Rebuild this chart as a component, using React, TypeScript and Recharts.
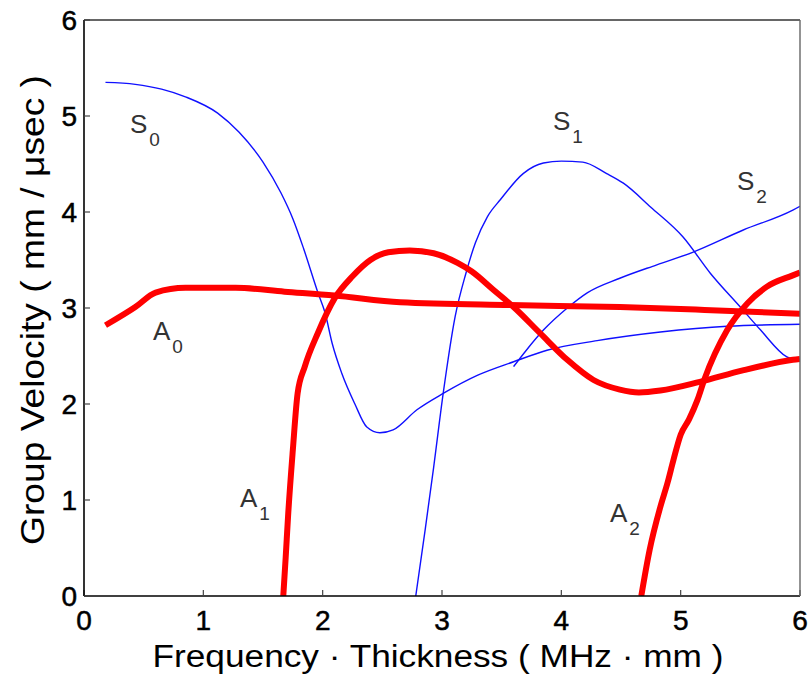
import React from 'react';
import { LineChart, Line, XAxis, YAxis, ReferenceDot } from 'recharts';

const FONT = '"Liberation Sans", Arial, Helvetica, sans-serif';

const xTicks = [0, 1, 2, 3, 4, 5, 6];
const yTicks = [0, 1, 2, 3, 4, 5, 6];
const xTitle = 'Frequency · Thickness ( MHz · mm )';
const yTitle = 'Group Velocity ( mm / μsec )';

// Symmetric modes (thin blue)
const s0 = [
  { x: 0.18, y: 5.35 }, { x: 0.43, y: 5.33 }, { x: 0.65, y: 5.28 }, { x: 0.85, y: 5.2 },
  { x: 1.12, y: 5.03 }, { x: 1.3, y: 4.83 }, { x: 1.5, y: 4.52 }, { x: 1.65, y: 4.2 },
  { x: 1.75, y: 3.93 }, { x: 1.84, y: 3.62 }, { x: 1.96, y: 3.16 }, { x: 2.02, y: 2.95 },
  { x: 2.08, y: 2.63 }, { x: 2.16, y: 2.32 }, { x: 2.27, y: 2.0 }, { x: 2.37, y: 1.76 },
  { x: 2.48, y: 1.7 }, { x: 2.59, y: 1.73 }, { x: 2.79, y: 1.94 }, { x: 3.01, y: 2.11 },
  { x: 3.3, y: 2.3 }, { x: 3.6, y: 2.44 }, { x: 3.88, y: 2.56 }, { x: 4.3, y: 2.66 },
  { x: 4.83, y: 2.75 }, { x: 5.39, y: 2.81 }, { x: 6.0, y: 2.83 },
];
const s1 = [
  { x: 2.78, y: 0 }, { x: 2.86, y: 0.7 }, { x: 2.93, y: 1.34 }, { x: 3.01, y: 2.11 },
  { x: 3.11, y: 2.91 }, { x: 3.2, y: 3.36 }, { x: 3.28, y: 3.68 }, { x: 3.38, y: 3.95 },
  { x: 3.49, y: 4.13 }, { x: 3.68, y: 4.4 }, { x: 3.85, y: 4.51 }, { x: 4.0, y: 4.53 },
  { x: 4.18, y: 4.52 }, { x: 4.38, y: 4.4 }, { x: 4.52, y: 4.3 }, { x: 4.75, y: 4.05 },
  { x: 5.02, y: 3.74 }, { x: 5.25, y: 3.36 }, { x: 5.5, y: 3.01 }, { x: 5.67, y: 2.77 },
  { x: 5.89, y: 2.49 }, { x: 6.0, y: 2.45 },
];
const s2 = [
  { x: 3.6, y: 2.39 }, { x: 3.7, y: 2.55 }, { x: 3.85, y: 2.77 }, { x: 4.05, y: 3.0 },
  { x: 4.22, y: 3.16 }, { x: 4.49, y: 3.31 }, { x: 4.8, y: 3.45 }, { x: 5.1, y: 3.58 },
  { x: 5.52, y: 3.81 }, { x: 5.94, y: 4.02 }, { x: 6.0, y: 4.06 },
];

// Antisymmetric modes (thick red)
const a0 = [
  { x: 0.18, y: 2.82 }, { x: 0.43, y: 3.01 }, { x: 0.6, y: 3.16 }, { x: 0.85, y: 3.21 },
  { x: 1.27, y: 3.21 }, { x: 1.68, y: 3.17 }, { x: 2.1, y: 3.13 }, { x: 2.65, y: 3.06 },
  { x: 3.57, y: 3.03 }, { x: 4.49, y: 3.01 }, { x: 5.2, y: 2.98 }, { x: 6.0, y: 2.94 },
];
const a1 = [
  { x: 1.67, y: 0 }, { x: 1.69, y: 0.4 }, { x: 1.71, y: 0.83 }, { x: 1.75, y: 1.52 },
  { x: 1.79, y: 2.11 }, { x: 1.85, y: 2.39 }, { x: 1.96, y: 2.74 }, { x: 2.1, y: 3.1 },
  { x: 2.25, y: 3.33 }, { x: 2.4, y: 3.5 }, { x: 2.55, y: 3.58 }, { x: 2.73, y: 3.6 },
  { x: 2.93, y: 3.57 }, { x: 3.13, y: 3.47 }, { x: 3.25, y: 3.38 }, { x: 3.43, y: 3.19 },
  { x: 3.6, y: 3.01 }, { x: 3.82, y: 2.74 }, { x: 4.05, y: 2.46 }, { x: 4.27, y: 2.25 },
  { x: 4.49, y: 2.15 }, { x: 4.65, y: 2.12 }, { x: 4.83, y: 2.14 }, { x: 5.16, y: 2.23 },
  { x: 5.52, y: 2.35 }, { x: 5.94, y: 2.46 }, { x: 6.0, y: 2.47 },
];
const a2 = [
  { x: 4.67, y: 0 }, { x: 4.74, y: 0.48 }, { x: 4.83, y: 0.93 }, { x: 4.89, y: 1.18 },
  { x: 4.94, y: 1.42 }, { x: 5.0, y: 1.68 }, { x: 5.07, y: 1.84 }, { x: 5.14, y: 2.04 },
  { x: 5.2, y: 2.26 }, { x: 5.39, y: 2.77 }, { x: 5.56, y: 3.05 }, { x: 5.72, y: 3.22 },
  { x: 5.94, y: 3.34 }, { x: 6.0, y: 3.37 },
];

const modeLabels = [
  { main: 'S', sub: '0', x: 0.385, y: 4.82 },
  { main: 'A', sub: '0', x: 0.578, y: 2.667 },
  { main: 'A', sub: '1', x: 1.307, y: 0.927 },
  { main: 'S', sub: '1', x: 3.93, y: 4.854 },
  { main: 'S', sub: '2', x: 5.472, y: 4.229 },
  { main: 'A', sub: '2', x: 4.408, y: 0.771 },
];

const blueSeries = [s0, s1, s2];
const redSeries = [a0, a1, a2];

const XTick = (props: any) => {
  const { x, y, payload } = props;
  return (
    <text x={x} y={y + 24} textAnchor="middle" fontFamily={FONT} fontSize={28} fill="#000"
      stroke="#000" strokeWidth={0.5}>
      {payload.value}
    </text>
  );
};

const YTick = (props: any) => {
  const { x, y, payload } = props;
  return (
    <text x={x} y={y + 10} textAnchor="end" fontFamily={FONT} fontSize={28} fill="#000"
      stroke="#000" strokeWidth={0.5}>
      {payload.value}
    </text>
  );
};

const XTitle = (props: any) => {
  const vb = props.viewBox || { x: 84, y: 596, width: 716, height: 91 };
  const cx = vb.x + vb.width / 2 - 4;
  return (
    <text x={cx} y={vb.y + 71} textAnchor="middle" fontFamily={FONT} fontSize={31} fill="#000"
      textLength={571} lengthAdjust="spacingAndGlyphs">
      {xTitle}
    </text>
  );
};

const YTitle = (props: any) => {
  const vb = props.viewBox || { x: 0, y: 20, width: 84, height: 576 };
  const cx = 44;
  const cy = vb.y + vb.height / 2 + 2;
  return (
    <text x={cx} y={cy} textAnchor="middle" fontFamily={FONT} fontSize={33} fill="#000"
      transform={`rotate(-90 ${cx} ${cy})`} textLength={470} lengthAdjust="spacingAndGlyphs">
      {yTitle}
    </text>
  );
};

const ModeLabel = (props: any) => {
  const { cx, cy, main, sub } = props;
  return (
    <text x={cx} y={cy} fontFamily={FONT} fontSize={26} fill="#333">
      {main}
      <tspan fontSize={19} dx={2} dy={13}>{sub}</tspan>
    </text>
  );
};

export default function App() {
  return (
    <div style={{ position: 'absolute', left: 0, top: 0, background: '#fff' }}>
      <LineChart width={810} height={687} margin={{ top: 19, right: 9, bottom: 0, left: 0 }}>
        <XAxis
          xAxisId="bottom"
          dataKey="x"
          type="number"
          domain={[0, 6]}
          ticks={xTicks}
          allowDataOverflow
          height={91}
          tickSize={-6}
          tickMargin={16}
          tick={<XTick />}
          axisLine={{ stroke: '#000', strokeWidth: 1.6 }}
          tickLine={{ stroke: '#444', strokeWidth: 1.2 }}
          label={<XTitle />}
        />
        <XAxis
          xAxisId="top"
          orientation="top"
          type="number"
          domain={[0, 6]}
          ticks={xTicks}
          allowDataOverflow
          height={1}
          tickSize={-6}
          tick={false}
          axisLine={{ stroke: '#333', strokeWidth: 1.4 }}
          tickLine={{ stroke: '#444', strokeWidth: 1.2 }}
        />
        <YAxis
          yAxisId="left"
          type="number"
          domain={[0, 6]}
          ticks={yTicks}
          allowDataOverflow
          width={84}
          tickSize={-6}
          tickMargin={13}
          tick={<YTick />}
          axisLine={{ stroke: '#000', strokeWidth: 1.6 }}
          tickLine={{ stroke: '#444', strokeWidth: 1.2 }}
          label={<YTitle />}
        />
        <YAxis
          yAxisId="right"
          orientation="right"
          type="number"
          domain={[0, 6]}
          ticks={yTicks}
          allowDataOverflow
          width={1}
          tickSize={-6}
          tick={false}
          axisLine={{ stroke: '#666', strokeWidth: 1.4 }}
          tickLine={{ stroke: '#444', strokeWidth: 1.2 }}
        />
        {blueSeries.map((d, i) => (
          <Line
            key={`s${i}`}
            xAxisId="bottom"
            yAxisId="left"
            data={d}
            dataKey="y"
            type="monotone"
            stroke="#1010ff"
            strokeWidth={1.4}
            dot={false}
            activeDot={false}
            isAnimationActive={false}
          />
        ))}
        {redSeries.map((d, i) => (
          <Line
            key={`a${i}`}
            xAxisId="bottom"
            yAxisId="left"
            data={d}
            dataKey="y"
            type="monotone"
            stroke="#ff0000"
            strokeWidth={6}
            dot={false}
            activeDot={false}
            isAnimationActive={false}
          />
        ))}
        {modeLabels.map((m, i) => (
          <ReferenceDot
            key={`l${i}`}
            xAxisId="bottom"
            yAxisId="left"
            x={m.x}
            y={m.y}
            r={0}
            shape={(p: any) => <ModeLabel cx={p.cx} cy={p.cy} main={m.main} sub={m.sub} />}
          />
        ))}
      </LineChart>
    </div>
  );
}
